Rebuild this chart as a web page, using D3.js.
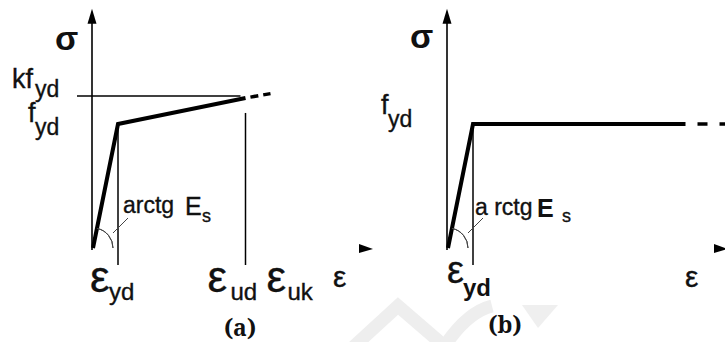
<!DOCTYPE html>
<html><head><meta charset="utf-8">
<script src="https://cdn.jsdelivr.net/npm/d3@7"></script>
<style>html,body{margin:0;padding:0;background:#fff;} svg{display:block;}</style>
</head><body><svg id="c" width="725" height="342"></svg>
<script>
// ---------- data (strain in units of ε_yd, stress in units of f_yd) ----------
const strainA      = [0, 1, 6.1];        // origin, ε_yd, ε_ud
const stressA      = [0, 1, 1.21];
const strainA_dash = [6.1, 7.1];         // ε_ud -> ε_uk
const stressA_dash = [1.21, 1.245];
const kLevel       = 1.225;              // k·f_yd
const strainB      = [0, 1, 9.5];
const stressB      = [0, 1, 1];
const strainB_dash = [9.5, 11.2];
const stressB_dash = [1, 1];
const strainDomain = [0, 11];
const stressDomain = [0, 2];
const stressAxisTop = 1.93;
const strainAxisEnd = 11.2;
const epsYd = 1, epsUd = 6.1, epsUk = 7.1;
const panelCaptions = ["(a)", "(b)"];

const svg = d3.select("#c");
const SANS = "'Liberation Sans', Arial, sans-serif";
const SERIF = "'Noto Serif', 'Liberation Serif', 'DejaVu Serif', serif";

// faint watermark
const wm = svg.append("g").attr("fill","none").attr("stroke","#eeeeee").attr("stroke-width",13);
wm.append("path").attr("d","M350,350 L398,306 L442,344");
wm.append("path").attr("d","M446,344 Q468,312 492,306");
svg.append("path").attr("d","M522,305 L558,305 L538,328 Z").attr("fill","#efefef");

function txt(x, y, s, size, opts={}) {
  return svg.append("text").attr("x",x).attr("y",y).text(s)
    .attr("font-family", opts.family || SANS).attr("font-size", size)
    .attr("font-weight", opts.bold ? "bold" : "normal")
    .attr("text-anchor", opts.anchor || "start").attr("fill","#111")
    .attr("stroke", opts.family ? "none" : "#111").attr("stroke-width", opts.bold ? 0 : 0.35);
}

function drawPanel(x, y, strain, stress, dStrain, dStress, dash) {
  const line = d3.line().x(d=>x(d[0])).y(d=>y(d[1]));
  // y axis with arrow
  const ax = x(0) - 1;
  svg.append("line").attr("x1",ax).attr("x2",ax).attr("y1",y(0)+2).attr("y2",y(stressAxisTop)+12)
    .attr("stroke","#000").attr("stroke-width",1.6);
  svg.append("path").attr("d",`M${ax},${y(stressAxisTop)} L${ax-4.5},${y(stressAxisTop)+15} L${ax+4.5},${y(stressAxisTop)+15} Z`).attr("fill","#000");
  // x arrow head only
  const xe = x(strainAxisEnd);
  svg.append("path").attr("d",`M${xe},${y(0)+1} L${xe-14},${y(0)-4} L${xe-14},${y(0)+5} Z`).attr("fill","#000");
  // main curve
  svg.append("path").datum(d3.zip(strain, stress)).attr("d", line)
    .attr("fill","none").attr("stroke","#000").attr("stroke-width",4).attr("stroke-linejoin","miter");
  // dashed continuation
  svg.append("path").datum(d3.zip(dStrain, dStress)).attr("d", line)
    .attr("fill","none").attr("stroke","#000").attr("stroke-width",3.5)
    .attr("stroke-dasharray", dash[0]).attr("stroke-dashoffset", dash[1]);
  // ε_yd vertical
  svg.append("line").attr("x1",x(epsYd)).attr("x2",x(epsYd)).attr("y1",y(1)).attr("y2",y(0)+17)
    .attr("stroke","#000").attr("stroke-width",1.5);
  // angle arc and leader
  const ang = Math.atan2(x(strain[1])-x(0), y(0)-y(stress[1]));
  const arc = d3.arc().innerRadius(20).outerRadius(20).startAngle(ang).endAngle(Math.PI/2);
  svg.append("path").attr("d", arc()).attr("transform",`translate(${x(0)},${y(0)})`)
    .attr("fill","none").attr("stroke","#444").attr("stroke-width",1);
  svg.append("line").attr("x1",x(epsYd)-5).attr("y1",y(0)-15).attr("x2",x(epsYd)+10).attr("y2",y(0)-30)
    .attr("stroke","#444").attr("stroke-width",1);
}

// ---------- panel (a) ----------
const xA = d3.scaleLinear().domain(strainDomain).range([93, 368]);
const yA = d3.scaleLinear().domain(stressDomain).range([248, 0]);
drawPanel(xA, yA, strainA, stressA, strainA_dash, stressA_dash, ["8 5", 8]);
// k f_yd horizontal
svg.append("line").attr("x1",xA(0)-16).attr("x2",xA(epsUd)-5).attr("y1",yA(kLevel)).attr("y2",yA(kLevel))
  .attr("stroke","#000").attr("stroke-width",1.5);
// ε_ud vertical
svg.append("line").attr("x1",xA(epsUd)).attr("x2",xA(epsUd)).attr("y1",yA(stressA[2])+15).attr("y2",yA(0)+17)
  .attr("stroke","#000").attr("stroke-width",1.5);

txt(55, 50, "σ", 34, {bold:true});
txt(12, 88, "kf", 27);
txt(35, 97, "yd", 23);
txt(28, 122, "f", 27);
txt(35, 135, "yd", 23);
txt(123, 213, "arctg", 23);
txt(185, 215, "E", 25);
txt(202, 222, "s", 18);
txt(xA(epsYd)-28, 292, "ε", 44); txt(xA(epsYd)-9, 300, "yd", 24);
txt(xA(epsUd)-38, 292, "ε", 44); txt(xA(epsUd)-15, 300, "ud", 24);
txt(xA(epsUk)-4, 292, "ε", 44);  txt(xA(epsUk)+17, 300, "uk", 24);
txt(333, 287, "ε", 30);
txt(240, 336, panelCaptions[0], 23, {family:SERIF, bold:true, anchor:"middle"});

// ---------- panel (b) ----------
const xB = d3.scaleLinear().domain(strainDomain).range([448, 723]);
const yB = d3.scaleLinear().domain(stressDomain).range([248, 0]);
drawPanel(xB, yB, strainB, stressB, strainB_dash, stressB_dash, ["10 12", 10]);

txt(410, 48, "σ", 34, {bold:true});
txt(381, 114, "f", 27);
txt(388, 127, "yd", 23);
txt(475, 215, "a rctg", 23);
txt(537, 217, "E", 25, {bold:true});
txt(562, 222, "s", 18);
txt(xB(epsYd)-26, 283, "ε", 38); txt(xB(epsYd)-10, 296, "yd", 24, {bold:true});
txt(685, 287, "ε", 30);
txt(505, 333, panelCaptions[1], 23, {family:SERIF, bold:true, anchor:"middle"});
</script></body></html>
